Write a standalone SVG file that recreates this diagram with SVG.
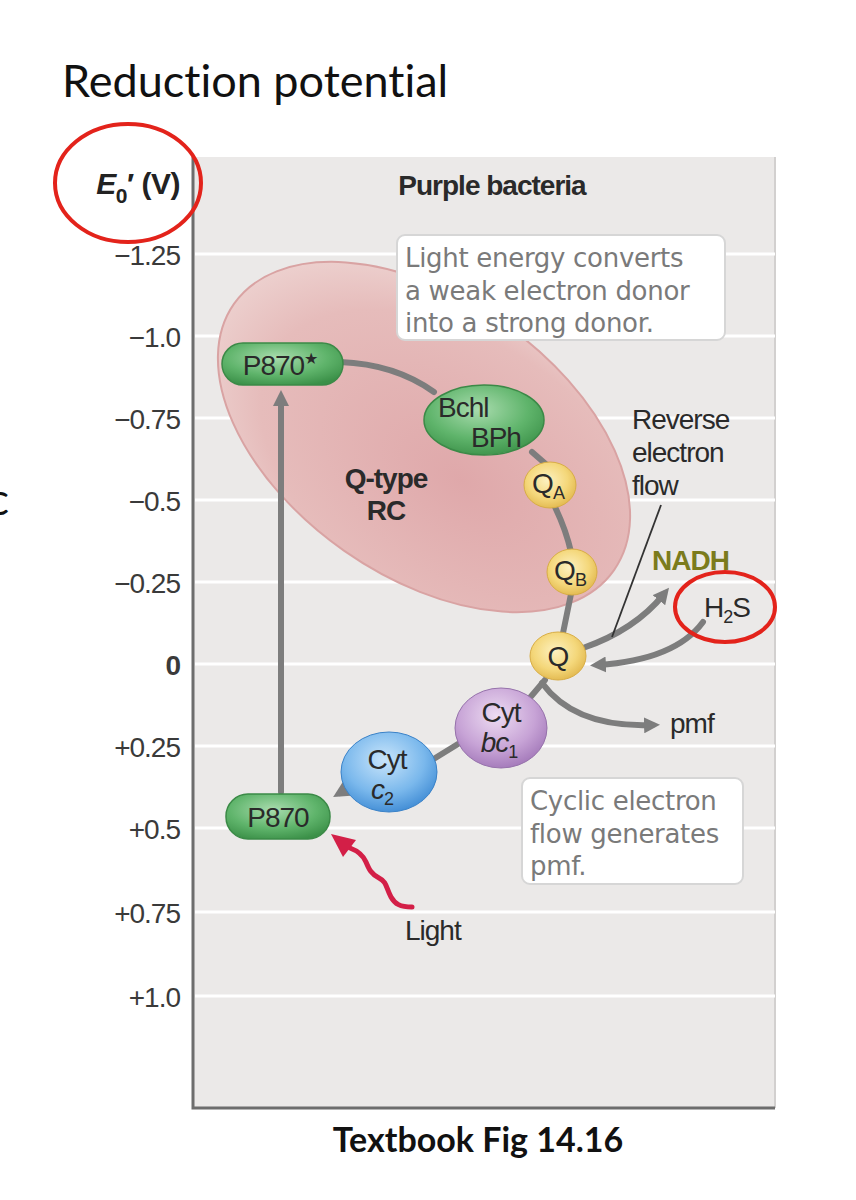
<svg xmlns="http://www.w3.org/2000/svg" width="856" height="1200" viewBox="0 0 856 1200">
<defs>
<style>
.tick{font-family:"Liberation Sans",Arial,sans-serif;font-size:28px;fill:#3a3a3a;text-anchor:end;letter-spacing:-1px}
.lbl{font-family:"Liberation Sans",Arial,sans-serif;font-size:28px;fill:#2a2a2a;letter-spacing:-1px}
.bold{font-weight:bold}
.box{font-family:"DejaVu Sans","Open Sans",sans-serif;font-size:26px;fill:#7a7a7a;letter-spacing:-0.3px}
.grid{stroke:#ffffff;stroke-width:3}
.conn{fill:none;stroke:#7d7d7d;stroke-width:6;stroke-linecap:round}
.ring{fill:none;stroke:#e3231b;stroke-width:4}
.nt{font-family:"Liberation Sans",Arial,sans-serif;font-size:28px;fill:#2a2a2a;text-anchor:middle;letter-spacing:-1px}
.page{font-family:Lato,"Open Sans",sans-serif;fill:#111;font-variant-ligatures:none}
</style>
<marker id="ah" viewBox="0 0 10 10" refX="5" refY="5" markerWidth="16" markerHeight="16" markerUnits="userSpaceOnUse" orient="auto">
<path d="M0,0 L10,5 L0,10 Z" fill="#7d7d7d"/>
</marker>
<radialGradient id="gGreen" cx="0.45" cy="0.35" r="0.7">
<stop offset="0" stop-color="#a9dcae"/><stop offset="0.6" stop-color="#5fb46b"/><stop offset="1" stop-color="#3b9048"/>
</radialGradient>
<radialGradient id="gYellow" cx="0.45" cy="0.4" r="0.65">
<stop offset="0" stop-color="#fdf1c0"/><stop offset="0.6" stop-color="#f4d77a"/><stop offset="1" stop-color="#e0b54a"/>
</radialGradient>
<radialGradient id="gPurple" cx="0.45" cy="0.35" r="0.7">
<stop offset="0" stop-color="#eddcf2"/><stop offset="0.6" stop-color="#c7a3d6"/><stop offset="1" stop-color="#9f74b6"/>
</radialGradient>
<radialGradient id="gBlue" cx="0.45" cy="0.35" r="0.7">
<stop offset="0" stop-color="#c9e5fb"/><stop offset="0.6" stop-color="#7ab8ec"/><stop offset="1" stop-color="#3a87d2"/>
</radialGradient>
<radialGradient id="gPink" cx="0.62" cy="0.55" r="0.65">
<stop offset="0" stop-color="#dfa8aa"/><stop offset="0.75" stop-color="#e6bcbb"/><stop offset="1" stop-color="#edd2d0"/>
</radialGradient>
</defs>

<rect width="856" height="1200" fill="#ffffff"/>

<!-- page titles -->
<text class="page" x="62" y="97" font-size="45">Reduction potential</text>
<text class="page" x="-12" y="515" font-size="44">c</text>
<text class="page" x="478" y="1152" font-size="34" font-weight="bold" text-anchor="middle">Textbook Fig 14.16</text>

<!-- plot area -->
<g id="plot">
<rect x="193" y="157" width="582" height="951" fill="#ebe9e8"/>
<line x1="775" y1="157" x2="775" y2="1108" stroke="#d2d0cf" stroke-width="2"/>
<g>
<line class="grid" x1="195" y1="254" x2="775" y2="254"/>
<line class="grid" x1="195" y1="336" x2="775" y2="336"/>
<line class="grid" x1="195" y1="418" x2="775" y2="418"/>
<line class="grid" x1="195" y1="500" x2="775" y2="500"/>
<line class="grid" x1="195" y1="582" x2="775" y2="582"/>
<line class="grid" x1="195" y1="664" x2="775" y2="664"/>
<line class="grid" x1="195" y1="746" x2="775" y2="746"/>
<line class="grid" x1="195" y1="828" x2="775" y2="828"/>
<line class="grid" x1="195" y1="912" x2="775" y2="912"/>
<line class="grid" x1="195" y1="996" x2="775" y2="996"/>
</g>
<path d="M193,157 L193,1108 L775,1108" fill="none" stroke="#6d6d6d" stroke-width="3"/>
</g>

<!-- axis labels -->
<g id="axis">
<text x="180" y="194" font-family="'Liberation Sans',Arial,sans-serif" font-size="30" font-weight="bold" fill="#222" text-anchor="end" letter-spacing="-0.5"><tspan font-style="italic">E</tspan><tspan font-size="21" dy="9">0</tspan><tspan dy="-9">′ (V)</tspan></text>
<text class="tick" x="180" y="265">−1.25</text>
<text class="tick" x="180" y="347">−1.0</text>
<text class="tick" x="180" y="429">−0.75</text>
<text class="tick" x="180" y="511">−0.5</text>
<text class="tick" x="180" y="593">−0.25</text>
<text class="tick bold" x="180" y="675">0</text>
<text class="tick" x="180" y="757">+0.25</text>
<text class="tick" x="180" y="839">+0.5</text>
<text class="tick" x="180" y="923">+0.75</text>
<text class="tick" x="180" y="1007">+1.0</text>
<ellipse class="ring" cx="128" cy="183" rx="73" ry="59"/>
</g>

<text class="lbl bold" x="492" y="195" text-anchor="middle">Purple bacteria</text>

<!-- reaction centre -->
<g id="rc">
<ellipse cx="424" cy="437" rx="232" ry="139" transform="rotate(35 424 437)" fill="url(#gPink)" stroke="#d9a3a3" stroke-width="2"/>
<text class="lbl bold" x="386" y="488" text-anchor="middle">Q-type</text>
<text class="lbl bold" x="386" y="520" text-anchor="middle">RC</text>
</g>

<!-- note boxes -->
<g id="note1">
<rect x="397" y="235" width="328" height="105" rx="8" fill="#ffffff" stroke="#d6d6d6" stroke-width="2"/>
<text class="box" x="405" y="267">Light energy converts</text>
<text class="box" x="405" y="300">a weak electron donor</text>
<text class="box" x="405" y="332">into a strong donor.</text>
</g>
<g id="note2">
<rect x="522" y="778" width="221" height="106" rx="8" fill="#ffffff" stroke="#d6d6d6" stroke-width="2"/>
<text class="box" x="530" y="810">Cyclic electron</text>
<text class="box" x="530" y="843">flow generates</text>
<text class="box" x="530" y="875">pmf.</text>
</g>

<!-- connectors -->
<g id="connectors">
<path class="conn" d="M281,792 L281,398" marker-end="url(#ah)"/>
<path class="conn" d="M340,362 Q395,364 434,392"/>
<path class="conn" d="M532,452 L548,466"/>
<path class="conn" d="M555,507 Q566,530 571,552"/>
<path class="conn" d="M571,594 L563,633"/>
<path class="conn" d="M545,680 L528,700"/>
<path class="conn" d="M458,744 L432,760"/>
<path class="conn" d="M345,790 L340,793" marker-end="url(#ah)"/>
<path class="conn" d="M583,648 Q635,630 664,594" marker-end="url(#ah)"/>
<path class="conn" d="M703,622 Q675,660 598,665" marker-end="url(#ah)"/>
<path class="conn" d="M542,683 Q575,728 652,725" marker-end="url(#ah)"/>
<line x1="661" y1="505" x2="612" y2="637" stroke="#333" stroke-width="1.8"/>
<path d="M412,907 C400,907 395,904 391,897 C386,888 387,882 379,878 C371,874 369,869 366,862 C363,855 358,851 350,848" fill="none" stroke="#d31f47" stroke-width="5" stroke-linecap="round"/>
<path d="M331,834 L356,840 L343,857 Z" fill="#d31f47"/>
</g>

<!-- nodes -->
<g id="p870star">
<rect x="222" y="343" width="121" height="42" rx="21" fill="url(#gGreen)" stroke="#3b8a47" stroke-width="1.5"/>
<text class="nt" x="280" y="375">P870<tspan font-size="16" dy="-11">★</tspan></text>
</g>
<g id="bchl">
<ellipse cx="484" cy="420" rx="60" ry="35" fill="url(#gGreen)" stroke="#3b8a47" stroke-width="1.5"/>
<text class="lbl" x="438" y="417">Bchl</text>
<text class="lbl" x="471" y="447">BPh</text>
</g>
<g id="qa">
<ellipse cx="550" cy="485" rx="26" ry="23" fill="url(#gYellow)" stroke="#d8ad45" stroke-width="1"/>
<text class="nt" x="548" y="493">Q<tspan font-size="18" dy="6">A</tspan></text>
</g>
<g id="qb">
<ellipse cx="572" cy="572" rx="25" ry="23" fill="url(#gYellow)" stroke="#d8ad45" stroke-width="1"/>
<text class="nt" x="570" y="580">Q<tspan font-size="18" dy="6">B</tspan></text>
</g>
<g id="q">
<ellipse cx="558" cy="656" rx="28" ry="24" fill="url(#gYellow)" stroke="#d8ad45" stroke-width="1"/>
<text class="nt" x="558" y="666">Q</text>
</g>
<g id="bc1">
<ellipse cx="501" cy="728" rx="46" ry="40" fill="url(#gPurple)" stroke="#9672ab" stroke-width="1"/>
<text class="nt" x="501" y="722">Cyt</text>
<text class="nt" x="499" y="752" font-style="italic">bc<tspan font-style="normal" font-size="18" dy="6">1</tspan></text>
</g>
<g id="c2">
<ellipse cx="389" cy="772" rx="48" ry="40" fill="url(#gBlue)" stroke="#3a82c8" stroke-width="1"/>
<text class="nt" x="387" y="769">Cyt</text>
<text class="nt" x="382" y="799" font-style="italic">c<tspan font-style="normal" font-size="18" dy="6">2</tspan></text>
</g>
<g id="p870">
<rect x="226" y="794" width="104" height="45" rx="22" fill="url(#gGreen)" stroke="#3b8a47" stroke-width="1.5"/>
<text class="nt" x="278" y="827">P870</text>
</g>

<!-- side labels -->
<g id="labels">
<text class="lbl" x="632" y="429">Reverse</text>
<text class="lbl" x="632" y="462">electron</text>
<text class="lbl" x="632" y="495">flow</text>
<text class="lbl bold" x="652" y="570" style="fill:#7b7b1c">NADH</text>
<text class="lbl" x="704" y="617">H<tspan font-size="18" dy="6">2</tspan><tspan dy="-6">S</tspan></text>
<ellipse class="ring" cx="725" cy="607" rx="50" ry="35"/>
<text class="lbl" x="670" y="733">pmf</text>
<text class="lbl" x="405" y="940">Light</text>
</g>
</svg>
